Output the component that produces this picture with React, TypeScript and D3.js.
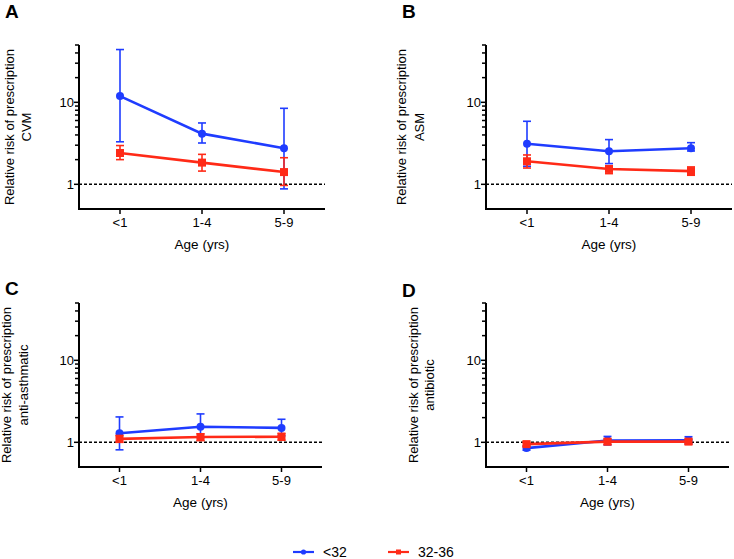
import * as d3 from "d3";

const categories = ["<1", "1-4", "5-9"];
const seriesNames = ["<32", "32-36"];
const seriesColors = ["#1f3cff", "#ff2a17"];

// panel A – CVM
const cvmPreterm = [11.9, 4.15, 2.75];
const cvmPretermLo = [3.3, 3.19, 0.88];
const cvmPretermHi = [44, 5.6, 8.45];
const cvmLate = [2.41, 1.84, 1.41];
const cvmLateLo = [2.0, 1.45, 0.97];
const cvmLateHi = [2.97, 2.32, 2.11];

// panel B – ASM
const asmPreterm = [3.13, 2.53, 2.75];
const asmPretermLo = [1.66, 1.79, 2.55];
const asmPretermHi = [5.87, 3.51, 3.22];
const asmLate = [1.91, 1.54, 1.45];
const asmLateLo = [1.58, 1.35, 1.29];
const asmLateHi = [2.28, 1.67, 1.63];

// panel C – anti-asthmatic
const astPreterm = [1.29, 1.55, 1.5];
const astPretermLo = [0.81, 1.14, 1.2];
const astPretermHi = [2.04, 2.22, 1.91];
const astLate = [1.1, 1.16, 1.17];
const astLateLo = [1.0, 1.05, 1.06];
const astLateHi = [1.21, 1.27, 1.28];

// panel D – antibiotic
const abxPreterm = [0.85, 1.05, 1.06];
const abxPretermLo = [0.8, 0.93, 0.96];
const abxPretermHi = [0.9, 1.18, 1.17];
const abxLate = [0.95, 1.02, 1.02];
const abxLateLo = [0.9, 0.94, 0.95];
const abxLateHi = [1.0, 1.1, 1.09];

const yDomain = [0.5, 50];
const majorTicks = [1, 10];
const minorTicks = [2, 3, 4, 5, 6, 7, 8, 9, 20, 30, 40, 50];

const FONT = "'Liberation Sans', Arial, sans-serif";

type Series = { est: number[]; lo: number[]; hi: number[] };

const panels = [
  {
    letter: "A", drug: "CVM", x0: 79, y0: 45, w: 246, h: 164,
    letterPos: [5, 18], titleX: [9.5, 26.5],
    series: [
      { est: cvmPreterm, lo: cvmPretermLo, hi: cvmPretermHi },
      { est: cvmLate, lo: cvmLateLo, hi: cvmLateHi },
    ],
  },
  {
    letter: "B", drug: "ASM", x0: 486, y0: 45, w: 246, h: 164,
    letterPos: [402, 18], titleX: [401, 419],
    series: [
      { est: asmPreterm, lo: asmPretermLo, hi: asmPretermHi },
      { est: asmLate, lo: asmLateLo, hi: asmLateHi },
    ],
  },
  {
    letter: "C", drug: "anti-asthmatic", x0: 79, y0: 303, w: 243, h: 164,
    letterPos: [5, 295], titleX: [6, 23],
    series: [
      { est: astPreterm, lo: astPretermLo, hi: astPretermHi },
      { est: astLate, lo: astLateLo, hi: astLateHi },
    ],
  },
  {
    letter: "D", drug: "antibiotic", x0: 486, y0: 303, w: 243, h: 164,
    letterPos: [402, 297], titleX: [413, 429],
    series: [
      { est: abxPreterm, lo: abxPretermLo, hi: abxPretermHi },
      { est: abxLate, lo: abxLateLo, hi: abxLateHi },
    ],
  },
];

function Panel({ p }: { p: (typeof panels)[number] }) {
  const x = d3.scaleLinear().domain([-0.5, categories.length - 0.5]).range([p.x0, p.x0 + p.w]);
  const y = d3.scaleLog().domain(yDomain).range([p.y0 + p.h, p.y0]);
  const yBottom = p.y0 + p.h;
  const line = d3.line<number>().x((_, i) => x(i)).y((d) => y(d));
  const cy = p.y0 + p.h / 2;

  return (
    <g>
      <text x={p.letterPos[0]} y={p.letterPos[1]} fontSize={19} fontWeight="bold" fontFamily={FONT}>
        {p.letter}
      </text>

      {/* y title */}
      <text transform={`translate(${p.titleX[0]},${cy}) rotate(-90)`} textAnchor="middle" dy="0.35em"
        fontSize={13} fontFamily={FONT}>Relative risk of prescription</text>
      <text transform={`translate(${p.titleX[1]},${cy}) rotate(-90)`} textAnchor="middle" dy="0.35em"
        fontSize={13} fontFamily={FONT}>{p.drug}</text>

      {/* reference line at 1 */}
      <line x1={p.x0} x2={p.x0 + p.w} y1={y(1)} y2={y(1)} stroke="#000" strokeWidth={1.4} strokeDasharray="3 2" />

      {/* series */}
      {p.series.map((s: Series, si) => {
        const c = seriesColors[si];
        return (
          <g key={si}>
            <path d={line(s.est) ?? ""} fill="none" stroke={c} strokeWidth={2.6} />
            {s.est.map((v, i) => (
              <g key={i} stroke={c} strokeWidth={1.6}>
                <line x1={x(i)} x2={x(i)} y1={y(s.lo[i])} y2={y(s.hi[i])} />
                <line x1={x(i) - 4} x2={x(i) + 4} y1={y(s.lo[i])} y2={y(s.lo[i])} />
                <line x1={x(i) - 4} x2={x(i) + 4} y1={y(s.hi[i])} y2={y(s.hi[i])} />
                {si === 0 ? (
                  <circle cx={x(i)} cy={y(v)} r={4} fill={c} stroke="none" />
                ) : (
                  <rect x={x(i) - 4} y={y(v) - 4} width={8} height={8} fill={c} stroke="none" />
                )}
              </g>
            ))}
          </g>
        );
      })}

      {/* y axis */}
      <line x1={p.x0} x2={p.x0} y1={y(yDomain[1])} y2={yBottom + 1} stroke="#000" strokeWidth={2} />
      {minorTicks.map((t) => (
        <line key={t} x1={p.x0 - 4} x2={p.x0} y1={y(t)} y2={y(t)} stroke="#000" strokeWidth={1.5} />
      ))}
      {majorTicks.map((t) => (
        <g key={t}>
          <line x1={p.x0 - 5} x2={p.x0} y1={y(t)} y2={y(t)} stroke="#000" strokeWidth={1.5} />
          <text x={p.x0 - 5} y={y(t)} dy="0.35em" textAnchor="end" fontSize={13} fontFamily={FONT}>
            {t}
          </text>
        </g>
      ))}

      {/* x axis */}
      <line x1={p.x0 - 1} x2={p.x0 + p.w} y1={yBottom} y2={yBottom} stroke="#000" strokeWidth={2} />
      {categories.map((c, i) => (
        <g key={c}>
          <line x1={x(i)} x2={x(i)} y1={yBottom} y2={yBottom + 5} stroke="#000" strokeWidth={1.5} />
          <text x={x(i)} y={yBottom + 17.5} textAnchor="middle" fontSize={13} fontFamily={FONT}>{c}</text>
        </g>
      ))}
      <text x={p.x0 + p.w / 2} y={yBottom + 40} textAnchor="middle" fontSize={13.5} fontFamily={FONT}>
        Age (yrs)
      </text>
    </g>
  );
}

export default function App() {
  const legendX = [293, 388];
  return (
    <svg width={734} height={559} style={{ position: "absolute", left: 0, top: 0, background: "#fff" }}>
      {panels.map((p) => (
        <Panel key={p.letter} p={p} />
      ))}
      {seriesNames.map((n, i) => {
        const lx = legendX[i];
        const c = seriesColors[i];
        return (
          <g key={n}>
            <line x1={lx} x2={lx + 21} y1={552} y2={552} stroke={c} strokeWidth={2.2} />
            {i === 0 ? (
              <circle cx={lx + 10.5} cy={552} r={2.6} fill={c} />
            ) : (
              <rect x={lx + 8} y={549.5} width={5} height={5} fill={c} />
            )}
            <text x={lx + 30} y={552} dy="0.35em" fontSize={14} fontFamily={FONT}>{n}</text>
          </g>
        );
      })}
    </svg>
  );
}
